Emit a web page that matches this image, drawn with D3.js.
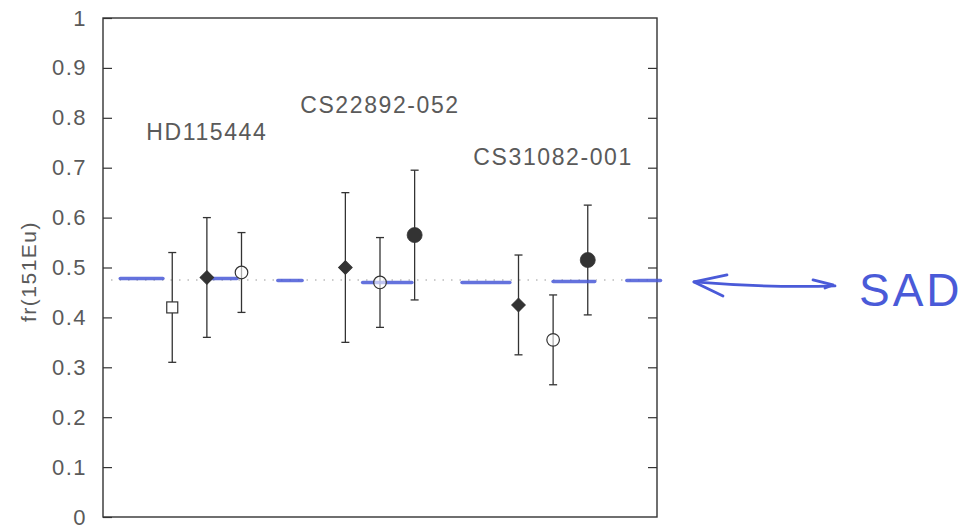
<!DOCTYPE html>
<html>
<head>
<meta charset="utf-8">
<script src="https://cdn.jsdelivr.net/npm/d3@7"></script>
<style>
  html, body { margin: 0; padding: 0; background: #fff; }
  svg { display: block; }
</style>
</head>
<body>
<svg id="chart" width="975" height="529"></svg>
<script>
// ---- data ----
const stars = ["HD115444", "CS22892-052", "CS31082-001"];
const starLabelPos = [1, 6, 11];            // x (data units) of label centres
const starLabelY = [0.755, 0.81, 0.705];      // label baseline values
const pointX = [0, 1, 2, 5, 6, 7, 10, 11, 12];
const pointStar = [0, 0, 0, 1, 1, 1, 2, 2, 2];
const pointSymbol = ["square", "diamond", "openCircle", "diamond", "openCircle", "filledCircle", "diamond", "openCircle", "filledCircle"];
const pointValue = [0.42, 0.48, 0.49, 0.50, 0.47, 0.565, 0.425, 0.355, 0.515];
const pointErr   = [0.11, 0.12, 0.08, 0.15, 0.09, 0.13, 0.10, 0.09, 0.11];
const yTicks = [0, 0.1, 0.2, 0.3, 0.4, 0.5, 0.6, 0.7, 0.8, 0.9, 1];
const yTickLabels = ["0", "0.1", "0.2", "0.3", "0.4", "0.5", "0.6", "0.7", "0.8", "0.9", "1"];
const sadValue = 0.475;
// hand-drawn blue dash segments (x start, x end in data units, y value)
const sadDashStart = [-1.5, 1.1, 3.05, 5.5, 8.37, 11.0, 13.13];
const sadDashEnd   = [-0.27, 1.87, 3.75, 6.92, 9.75, 12.2, 14.1];
const sadDashY     = [0.478, 0.478, 0.474, 0.47, 0.47, 0.472, 0.474];
const yLabel = "fr(151Eu)";
const annotation = "SAD";

// ---- layout ----
const svg = d3.select("#chart");
const pLeft = 103, pRight = 657, pTop = 18, pBottom = 517;
const x = d3.scaleLinear().domain([-2, 14]).range([pLeft, pRight]);
const y = d3.scaleLinear().domain([0, 1]).range([pBottom, pTop]);
const ink = "#333";
const textInk = "#5a5a5a";
const blue = "#4a5ad8";
const font = "'Liberation Sans', Arial, sans-serif";

// frame
svg.append("rect")
  .attr("x", pLeft).attr("y", pTop)
  .attr("width", pRight - pLeft).attr("height", pBottom - pTop)
  .attr("fill", "none").attr("stroke", ink).attr("stroke-width", 1.4);

// left axis (inner ticks)
const yAxisL = d3.axisLeft(y).tickValues(yTicks).tickSize(-9).tickPadding(16)
  .tickFormat((d, i) => yTickLabels[i]);
const gL = svg.append("g").attr("transform", `translate(${pLeft},0)`).call(yAxisL);
gL.select(".domain").remove();
gL.selectAll(".tick line").attr("stroke", ink).attr("stroke-width", 1.2);
gL.selectAll(".tick text")
  .attr("fill", textInk).attr("font-family", font).attr("font-size", 22)
  .attr("letter-spacing", 1.5);

// right axis ticks
const yAxisR = d3.axisRight(y).tickValues(yTicks.slice(1, -1)).tickSize(-9).tickFormat("");
const gR = svg.append("g").attr("transform", `translate(${pRight},0)`).call(yAxisR);
gR.select(".domain").remove();
gR.selectAll(".tick line").attr("stroke", ink).attr("stroke-width", 1.2);

// y label
svg.append("text")
  .attr("transform", `translate(36,${(pTop + pBottom) / 2 + 4}) rotate(-90)`)
  .attr("text-anchor", "middle")
  .attr("fill", textInk).attr("font-family", font).attr("font-size", 21)
  .attr("letter-spacing", 1.5)
  .text(yLabel);

// dotted reference line
svg.append("line")
  .attr("x1", pLeft + 8).attr("x2", pRight - 4)
  .attr("y1", y(sadValue)).attr("y2", y(sadValue))
  .attr("stroke", "#999").attr("stroke-width", 1.2)
  .attr("stroke-dasharray", "1.5,7");

// star labels
svg.selectAll("text.star").data(stars).join("text")
  .attr("class", "star")
  .attr("x", (d, i) => x(starLabelPos[i]))
  .attr("y", (d, i) => y(starLabelY[i]))
  .attr("text-anchor", "middle")
  .attr("fill", textInk).attr("font-family", font).attr("font-size", 23)
  .attr("letter-spacing", 1.6)
  .text(d => d);

// error bars
const pts = pointX.map((px, i) => ({ x: px, v: pointValue[i], e: pointErr[i], s: pointSymbol[i] }));
const gE = svg.append("g");
pts.forEach(p => {
  const cx = x(p.x);
  gE.append("line").attr("x1", cx).attr("x2", cx)
    .attr("y1", y(p.v + p.e)).attr("y2", y(p.v - p.e))
    .attr("stroke", ink).attr("stroke-width", 1.3);
  [p.v + p.e, p.v - p.e].forEach(v => {
    gE.append("line").attr("x1", cx - 4).attr("x2", cx + 4)
      .attr("y1", y(v)).attr("y2", y(v))
      .attr("stroke", ink).attr("stroke-width", 1.3);
  });
});

// blue hand-drawn dashes
svg.selectAll("line.sad").data(sadDashStart).join("line")
  .attr("class", "sad")
  .attr("x1", (d, i) => x(d)).attr("x2", (d, i) => x(sadDashEnd[i]))
  .attr("y1", (d, i) => y(sadDashY[i])).attr("y2", (d, i) => y(sadDashY[i]))
  .attr("stroke", blue).attr("stroke-width", 3.6).attr("stroke-linecap", "round")
  .attr("opacity", 0.85);

// markers
const gM = svg.append("g");
pts.forEach(p => {
  const cx = x(p.x), cy = y(p.v);
  if (p.s === "square") {
    gM.append("rect").attr("x", cx - 5.5).attr("y", cy - 5.5).attr("width", 11).attr("height", 11)
      .attr("fill", "#fff").attr("stroke", ink).attr("stroke-width", 1.2);
  } else if (p.s === "diamond") {
    gM.append("path").attr("d", d3.symbol(d3.symbolSquare, 92)())
      .attr("transform", `translate(${cx},${cy}) rotate(45)`)
      .attr("fill", ink).attr("stroke", ink).attr("stroke-width", 1);
  } else if (p.s === "openCircle") {
    gM.append("circle").attr("cx", cx).attr("cy", cy).attr("r", 6.3)
      .attr("fill", "#fff").attr("fill-opacity", 0.6).attr("stroke", ink).attr("stroke-width", 1.2);
  } else {
    gM.append("circle").attr("cx", cx).attr("cy", cy).attr("r", 7.5)
      .attr("fill", ink).attr("stroke", ink).attr("stroke-width", 0.8);
  }
});

// arrow annotation (outside plot, right of frame)
const ay = y(sadValue) + 4;
const arrow = svg.append("g").attr("stroke", blue).attr("stroke-width", 2.8)
  .attr("fill", "none").attr("stroke-linecap", "round").attr("stroke-linejoin", "round");
arrow.append("path").attr("d", `M${pRight + 37},${ay - 2} Q${pRight + 110},${ay + 4} ${pRight + 178},${ay + 2}`);
arrow.append("path").attr("d", `M${pRight + 70},${ay - 9} L${pRight + 37},${ay - 2} L${pRight + 66},${ay + 12}`);
arrow.append("path").attr("d", `M${pRight + 156},${ay - 4} L${pRight + 176},${ay + 1} L${pRight + 168},${ay + 4}`);

svg.append("text")
  .attr("x", pRight + 202).attr("y", ay + 22)
  .attr("fill", blue).attr("font-family", font).attr("font-size", 46)
  .attr("letter-spacing", 3)
  .text(annotation);
</script>
</body>
</html>
